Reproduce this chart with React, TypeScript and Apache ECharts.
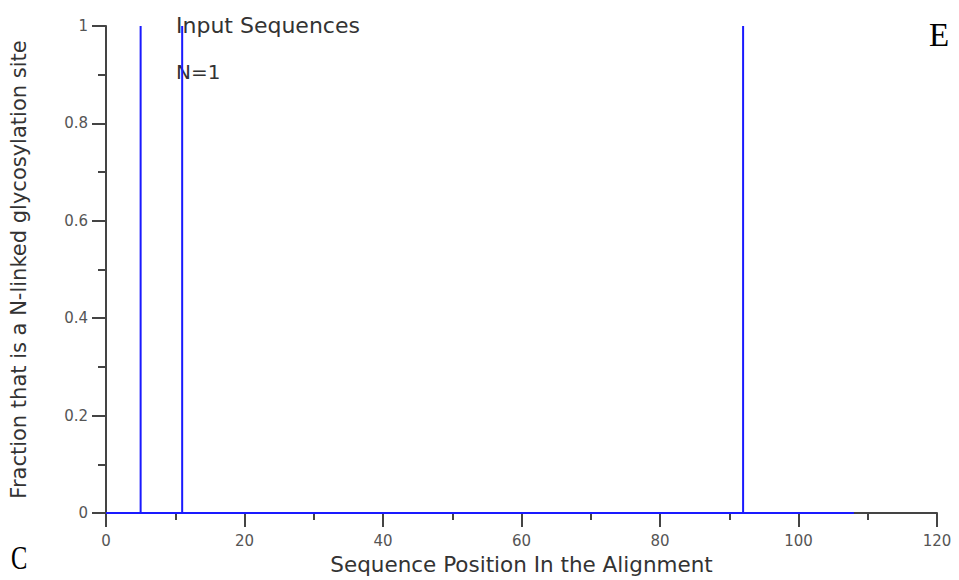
import React, { useEffect, useRef } from "react";
import * as echarts from "echarts";

const sequenceLength = 108;
const sitePositions = [5, 11, 92];
const siteFractions = [1, 1, 1];
const xTicks = [0, 20, 40, 60, 80, 100, 120];
const yTicks = [0, 0.2, 0.4, 0.6, 0.8, 1];
const titleLines = ["Input Sequences", "N=1"];
const xAxisTitle = "Sequence Position In the Alignment";
const yAxisTitle = "Fraction that is a N-linked glycosylation site";
const panelLetters = ["E", "C"];

export default function App() {
  const ref = useRef<HTMLDivElement>(null);
  useEffect(() => {
    if (!ref.current) return;
    const chart = echarts.init(ref.current, null, { renderer: "svg" });
    const data: number[][] = [[0, 0]];
    sitePositions.forEach((p, i) => {
      data.push([p, 0], [p, siteFractions[i]], [p, 0]);
    });
    data.push([sequenceLength, 0]);
    const labelFont = { fontFamily: "DejaVu Sans", fontSize: 15, color: "#555" };
    chart.setOption({
      animation: false,
      backgroundColor: "#fff",
      grid: { left: 105, right: 22, top: 26, bottom: 65, containLabel: false },
      xAxis: {
        type: "value",
        min: xTicks[0],
        max: xTicks[xTicks.length - 1],
        interval: 20,
        name: xAxisTitle,
        nameLocation: "middle",
        nameGap: 40,
        nameTextStyle: { fontFamily: "DejaVu Sans", fontSize: 21.5, color: "#333" },
        axisLine: { show: true, onZero: false, lineStyle: { color: "#444", width: 2 } },
        axisTick: { show: true, length: 14, lineStyle: { color: "#444", width: 2 } },
        minorTick: { show: true, splitNumber: 2, length: 7, lineStyle: { color: "#444", width: 2 } },
        splitLine: { show: false },
        axisLabel: { ...labelFont, margin: 20 },
      },
      yAxis: {
        type: "value",
        min: yTicks[0],
        max: yTicks[yTicks.length - 1],
        interval: 0.2,
        name: yAxisTitle,
        nameLocation: "middle",
        nameGap: 77,
        nameTextStyle: { fontFamily: "DejaVu Sans", fontSize: 21, color: "#333" },
        axisLine: { show: true, lineStyle: { color: "#444", width: 2 } },
        axisTick: { show: true, length: 14, lineStyle: { color: "#444", width: 2 } },
        minorTick: { show: true, splitNumber: 2, length: 8, lineStyle: { color: "#444", width: 2 } },
        splitLine: { show: false },
        axisLabel: { ...labelFont, margin: 18, formatter: (v: number) => String(+v.toFixed(1)) },
      },
      graphic: [
        { type: "text", left: 176, top: 14, style: { text: titleLines[0], fontFamily: "DejaVu Sans", fontSize: 22, fill: "#333" } },
        { type: "text", left: 176, top: 62, style: { text: titleLines[1], fontFamily: "DejaVu Sans", fontSize: 20, fill: "#333" } },
        { type: "text", left: 929, top: 18, style: { text: panelLetters[0], fontFamily: "Liberation Serif", fontSize: 33, fill: "#000" } },
        { type: "text", x: 11, y: 541, scaleX: 0.72, style: { text: panelLetters[1], fontFamily: "Liberation Serif", fontSize: 34, fill: "#000" } },
      ],
      series: [
        {
          type: "line",
          data,
          showSymbol: false,
          symbol: "none",
          lineStyle: { color: "#1a1aff", width: 2 },
          z: 3,
        },
      ],
    });
    return () => chart.dispose();
  }, []);
  return <div ref={ref} style={{ width: 959, height: 580, position: "absolute", left: 0, top: 0 }} />;
}
